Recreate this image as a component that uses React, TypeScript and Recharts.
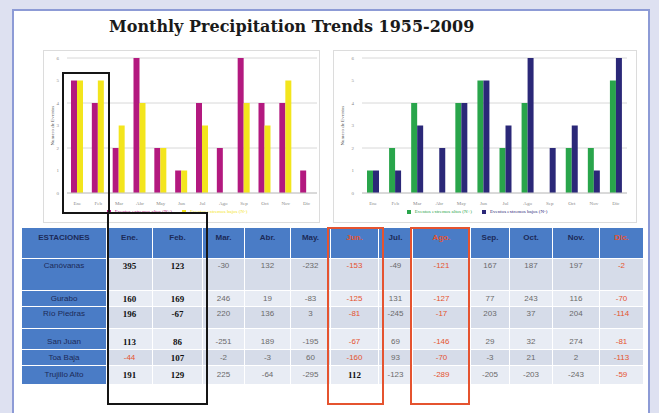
import React from 'react';
import { BarChart, Bar, XAxis, YAxis, CartesianGrid, Legend } from 'recharts';

const MONTHS = ['Ene', 'Feb', 'Mar', 'Abr', 'May', 'Jun', 'Jul', 'Ago', 'Sep', 'Oct', 'Nov', 'Dic'];
const LEFT_POS = [5, 4, 2, 6, 2, 1, 4, 2, 6, 4, 4, 1];
const LEFT_NEG = [5, 5, 3, 4, 2, 1, 3, 0, 4, 3, 5, 0];
const RIGHT_POS = [1, 2, 4, 0, 4, 5, 2, 4, 0, 2, 2, 5];
const RIGHT_NEG = [1, 1, 3, 2, 4, 5, 3, 6, 2, 3, 1, 6];
const Y_TICKS = [0, 1, 2, 3, 4, 5, 6];

const HEADERS = ['ESTACIONES', 'Ene.', 'Feb.', 'Mar.', 'Abr.', 'May.', 'Jun.', 'Jul.', 'Ago.', 'Sep.', 'Oct.', 'Nov.', 'Dic.'];
const STATIONS = ['Canóvanas', 'Gurabo', 'Río Piedras', 'San Juan', 'Toa Baja', 'Trujillo Alto'];
const VALUES = [
  [395, 123, -30, 132, -232, -153, -49, -121, 167, 187, 197, -2],
  [160, 169, 246, 19, -83, -125, 131, -127, 77, 243, 116, -70],
  [196, -67, 220, 136, 3, -81, -245, -17, 203, 37, 204, -114],
  [113, 86, -251, 189, -195, -67, 69, -146, 29, 32, 274, -81],
  [-44, 107, -2, -3, 60, -160, 93, -70, -3, 21, 2, -113],
  [191, 129, 225, -64, -295, 112, -123, -289, -205, -203, -243, -59],
];
const RED_MONTHS = [5, 7, 11];

const COL_W = [84, 45, 49, 41, 45, 39, 47, 33, 57, 38, 42, 46, 43];
const ROW_H = [30, 31, 15, 21, 20, 15, 18];
const ROW_ALIGN = ['flex-start', 'flex-start', 'center', 'flex-start', 'flex-end', 'center', 'center'];

const leftData = MONTHS.map((m, i) => ({ m, pos: LEFT_POS[i], neg: LEFT_NEG[i] }));
const rightData = MONTHS.map((m, i) => ({ m, pos: RIGHT_POS[i], neg: RIGHT_NEG[i] }));

const MAGENTA = '#b3197f';
const YELLOW = '#f3e51d';
const GREEN = '#29a54b';
const NAVY = '#2b2878';
const RED = '#e5532f';

function SmallChart(props: { data: any[]; c1: string; c2: string; n1: string; n2: string; yw: number; ml: number; mr: number; w: number }) {
  const { data, c1, c2, n1, n2, yw, ml, mr, w } = props;
  return (
    <BarChart width={w} height={173} data={data} margin={{ top: 8, right: mr, left: ml, bottom: 2 }} barGap={0} barCategoryGap="20%">
      <CartesianGrid vertical={false} stroke="#d8d8d8" />
      <XAxis dataKey="m" interval={0} height={16} tickLine={false} axisLine={{ stroke: '#c8c8c8' }} tick={{ fontSize: 5, fill: '#8a8a8a' }} />
      <YAxis domain={[0, 6]} ticks={Y_TICKS} width={yw} axisLine={false} tickLine={false} tick={{ fontSize: 5, fill: '#8a8a8a' }}
        label={{ value: 'Numero de Eventos', angle: -90, position: 'insideLeft', fontSize: 5, fill: '#555', dy: 20 }} />
      <Legend height={12} iconType="square" iconSize={4} wrapperStyle={{ fontSize: 5, color: '#888' }} />
      <Bar dataKey="pos" name={n1} fill={c1} barSize={6} isAnimationActive={false} />
      <Bar dataKey="neg" name={n2} fill={c2} barSize={6} isAnimationActive={false} />
    </BarChart>
  );
}

function Table() {
  const cols = COL_W.map((w) => w + 'px').join(' ');
  const rows = ROW_H.map((h) => h + 'px').join(' ');
  const cells: React.ReactNode[] = [];
  HEADERS.forEach((h, c) => {
    const red = RED_MONTHS.includes(c - 1);
    cells.push(
      <div key={'h' + c} style={{ background: '#4a7cc6', display: 'flex', justifyContent: 'center', alignItems: 'flex-start', paddingTop: 5, color: red ? RED : '#1c2a58', fontSize: 8, fontWeight: 'bold' }}>{h}</div>
    );
  });
  STATIONS.forEach((s, r) => {
    const align = ROW_ALIGN[r + 1];
    const bg = r % 2 === 0 ? '#d6dce9' : '#e8ecf4';
    cells.push(
      <div key={'s' + r} style={{ background: '#4a7cc6', display: 'flex', justifyContent: 'center', alignItems: align, padding: '2px 0', color: '#1c2a58', fontSize: 8 }}>{s}</div>
    );
    VALUES[r].forEach((v, c) => {
      let color = '#6a6a6a';
      let bold = false;
      let serif = false;
      if (RED_MONTHS.includes(c)) color = RED;
      if (c === 5 && r === 5) { color = '#111'; bold = true; serif = true; }
      if (c <= 1) { color = '#111'; bold = true; serif = true; }
      if (c === 0 && r === 4) { color = RED; bold = false; serif = false; }
      cells.push(
        <div key={'v' + r + '_' + c} style={{ background: bg, display: 'flex', justifyContent: 'center', alignItems: align, padding: '2px 0', color, fontSize: serif ? 9 : 8, fontWeight: bold ? 'bold' : 'normal', fontFamily: serif ? '"Liberation Serif", serif' : '"Liberation Sans", sans-serif' }}>{v}</div>
      );
    });
  });
  return (
    <div style={{ position: 'absolute', left: 22, top: 228, display: 'grid', gridTemplateColumns: cols, gridTemplateRows: rows, columnGap: 1, rowGap: 1, fontFamily: '"Liberation Sans", sans-serif', lineHeight: '10px', background: '#fff' }}>
      {cells}
    </div>
  );
}

export default function App() {
  const line = (x: number, y: number, w: number, h: number, color: string, k: string) => (
    <div key={k} style={{ position: 'absolute', left: x, top: y, width: w, height: h, border: `2px solid ${color}`, boxSizing: 'border-box' }} />
  );
  return (
    <div style={{ position: 'absolute', left: 0, top: 0, width: 659, height: 413, overflow: 'hidden', background: '#dee1f1' }}>
      <div style={{ position: 'absolute', left: 12, top: 9, width: 638, height: 420, background: '#fff', border: '2px solid #8d9bd6', boxSizing: 'border-box' }} />
      <div style={{ position: 'absolute', left: 109, top: 17, fontFamily: '"DejaVu Serif", serif', fontWeight: 'bold', fontSize: 16, color: '#1a1a1a', whiteSpace: 'nowrap' }}>
        Monthly Precipitation Trends 1955-2009
      </div>
      <div style={{ position: 'absolute', left: 43, top: 50, width: 277, height: 173, border: '1px solid #dcdcdc', boxSizing: 'border-box' }} />
      <div style={{ position: 'absolute', left: 333, top: 50, width: 304, height: 173, border: '1px solid #dcdcdc', boxSizing: 'border-box' }} />
      <div style={{ position: 'absolute', left: 43, top: 50 }}>
        <SmallChart data={leftData} c1={MAGENTA} c2={YELLOW} n1="Eventos extremos altos (N+)" n2="Eventos extremos bajos (N-)" yw={20} ml={4} mr={3} w={277} />
      </div>
      <div style={{ position: 'absolute', left: 333, top: 50 }}>
        <SmallChart data={rightData} c1={GREEN} c2={NAVY} n1="Eventos extremos altos (N+)" n2="Eventos extremos bajos (N-)" yw={25} ml={4} mr={10} w={304} />
      </div>
      <Table />
      {line(62, 72, 48, 142, '#151515', 'b1')}
      {line(107, 212, 101, 193, '#151515', 'b2')}
      {line(327, 227, 57, 178, RED, 'r1')}
      {line(410, 227, 60, 178, RED, 'r2')}
    </div>
  );
}
